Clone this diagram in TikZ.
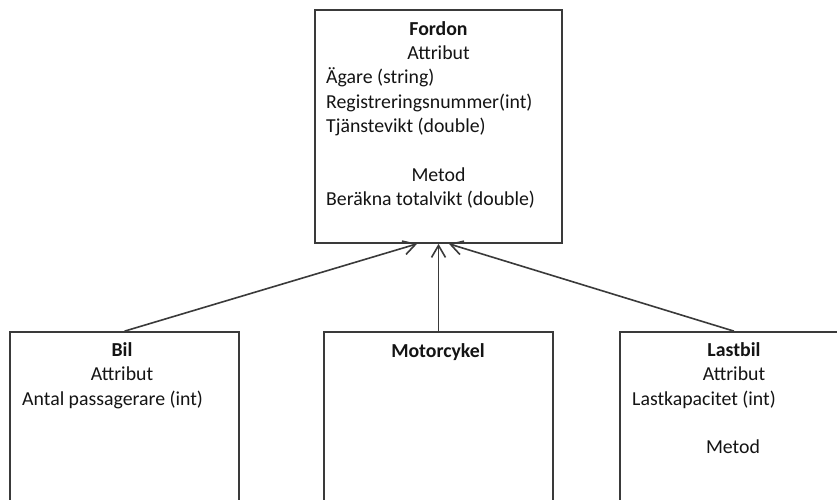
\documentclass[tikz,border=0pt]{standalone}
\usepackage{fontspec}
\setmainfont{Carlito}
\usetikzlibrary{arrows.meta}
\definecolor{edge}{HTML}{3A3A3A}
\definecolor{ink}{HTML}{141414}
\tikzset{
  classbox/.style={draw=edge, line width=1.7pt, rectangle, inner sep=0pt, fill=white},
  txt/.style={anchor=base, inner sep=0pt, text=ink, font=\fontsize{19.8}{24.4}\selectfont},
  txtl/.style={txt, anchor=base west},
  ttl/.style={txt, font=\fontsize{19.8}{24.4}\selectfont\bfseries},
  inherit/.style={draw=edge, line width=1.6pt, -{Straight Barb[length=12pt,width=14pt,line width=1.6pt]}}
}
\begin{document}
\begin{tikzpicture}[x=1pt, y=-1pt]
\useasboundingbox (0,0) rectangle (837,499);
\clip (0,0) rectangle (837,499);
\fill[white] (0,0) rectangle (837,499);

% Parent class
\node[classbox, minimum width=247pt, minimum height=233pt] (fordon) at (438.5,126.5) {};
\node[ttl]  (fT)  at (438.5,35)  {Fordon};
\node[txt]  (fA)  at (438.5,59)  {Attribut};
\node[txtl] (f1)  at (326,83)    {Ägare (string)};
\node[txtl] (f2)  at (326,108)   {Registreringsnummer(int)};
\node[txtl] (f3)  at (326,132)   {Tjänstevikt (double)};
\node[txt]  (fM)  at (438.5,181) {Metod};
\node[txtl] (f4)  at (326,205)   {Beräkna totalvikt (double)};

% Subclasses (run past the lower edge)
\node[classbox, minimum width=229pt, minimum height=240pt] (bil) at (124.5,452) {};
\node[ttl]  (bT) at (122,356) {Bil};
\node[txt]  (bA) at (122,380) {Attribut};
\node[txtl] (b1) at (22,405)  {Antal passagerare (int)};

\node[classbox, minimum width=229pt, minimum height=240pt] (mc) at (438.5,452) {};
\node[ttl]  (mT) at (438,357) {Motorcykel};

\node[classbox, minimum width=228pt, minimum height=240pt] (last) at (734,452) {};
\node[ttl]  (lT) at (734,356) {Lastbil};
\node[txt]  (lA) at (734,380) {Attribut};
\node[txtl] (l1) at (632,405) {Lastkapacitet (int)};
\node[txt]  (lM) at (733,453) {Metod};

% Inheritance arrows
\draw[inherit] (bil.north) -- ([xshift=-21.5pt]fordon.south);
\draw[inherit] (mc.north) -- (fordon.south);
\draw[inherit] (last.north) -- ([xshift=10.5pt]fordon.south);
\end{tikzpicture}
\end{document}
